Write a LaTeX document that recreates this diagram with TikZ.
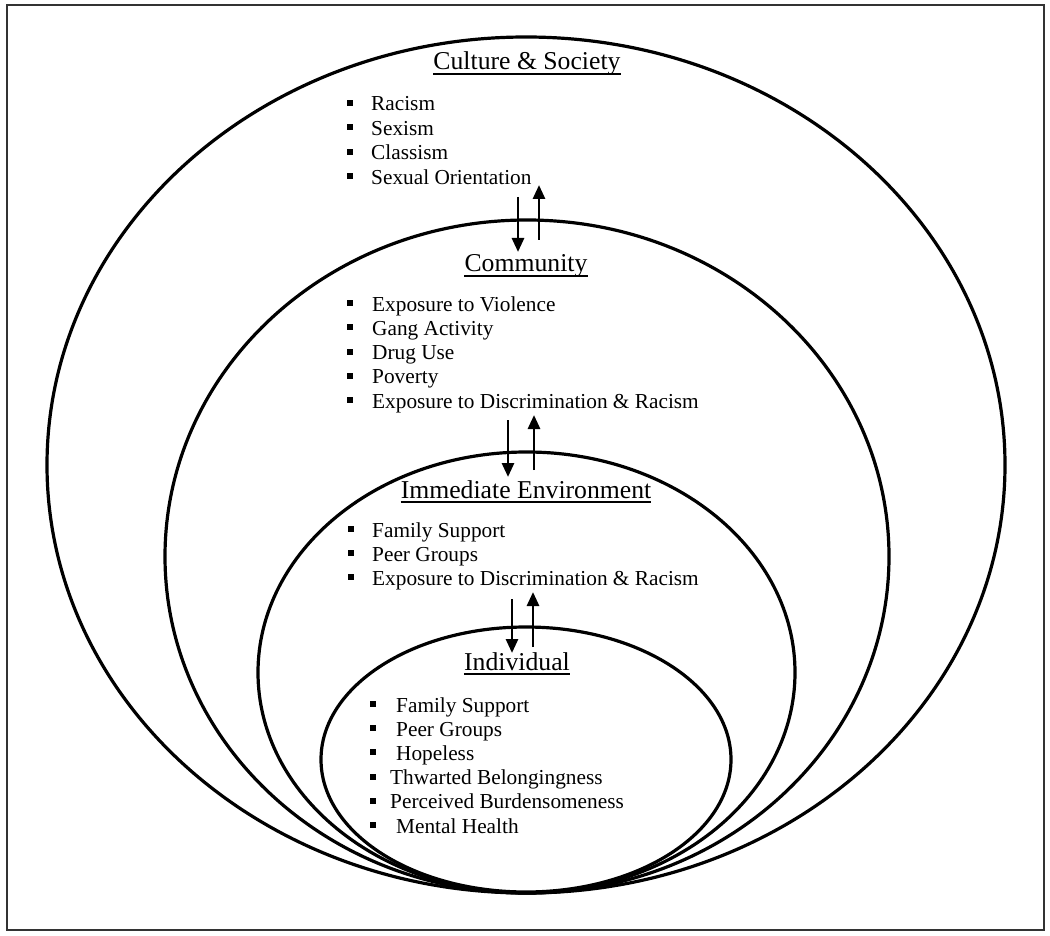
\documentclass[tikz,border=0pt]{standalone}
\usepackage{fontspec}
\setmainfont{Liberation Serif}
\usetikzlibrary{arrows.meta}
\definecolor{framegray}{HTML}{333333}
\begin{document}
\begin{tikzpicture}[x=1pt,y=-1pt,
  ring/.style={line width=3.2pt},
  ttl/.style={font=\fontsize{25.7}{28}\selectfont, inner sep=0pt, anchor=base},
  itm/.style={font=\fontsize{21.3}{24}\selectfont, inner sep=0pt, anchor=base west},
  bul/.style={fill=black, inner sep=0pt, minimum size=6pt},
  ul/.style={line width=1.6pt},
  flow/.style={line width=2.8pt, -{Triangle[length=14pt,width=12pt]}}]
\useasboundingbox (0,0) rectangle (1050,936);
\draw[line width=2.2pt, framegray] (7,5) rectangle (1044,930);

% rings
\draw[ring] (526,465) ellipse [x radius=479pt, y radius=428pt];
\draw[ring] (527,556.5) ellipse [x radius=362pt, y radius=336.5pt];
\draw[ring] (526.5,672.5) ellipse [x radius=268.5pt, y radius=220.5pt];
\draw[ring] (526,759.5) ellipse [x radius=205pt, y radius=132.5pt];

% titles
\node[ttl] (tc) at (527,70) {Culture \& Society};
\draw[ul] ([yshift=-4pt]tc.base west) -- ([yshift=-4pt]tc.base east);
\node[ttl] (tm) at (526,272) {Community};
\draw[ul] ([yshift=-4pt]tm.base west) -- ([yshift=-4pt]tm.base east);
\node[ttl] (te) at (526,498) {Immediate Environment};
\draw[ul] ([yshift=-4pt]te.base west) -- ([yshift=-4pt]te.base east);
\node[ttl] (ti) at (517,670) {Individual};
\draw[ul] ([yshift=-4pt]ti.base west) -- ([yshift=-4pt]ti.base east);

% culture items
\foreach \t [count=\i, evaluate=\i as \yb using 111+24.4*(\i-1)] in
  {Racism, Sexism, Classism, Sexual Orientation} {
  \node[bul] (cb\i) at (350,\yb-8) {};
  \node[itm] (c\i) at (371,\yb) {\t};
}
% community items
\foreach \t [count=\i, evaluate=\i as \yb using 311+24.3*(\i-1)] in
  {Exposure to Violence, Gang Activity, Drug Use, Poverty, Exposure to Discrimination \& Racism} {
  \node[bul] (mb\i) at (350,\yb-8) {};
  \node[itm] (m\i) at (372,\yb) {\t};
}
% immediate environment items
\foreach \t [count=\i, evaluate=\i as \yb using 537+24*(\i-1)] in
  {Family Support, Peer Groups, Exposure to Discrimination \& Racism} {
  \node[bul] (eb\i) at (351,\yb-8) {};
  \node[itm] (e\i) at (372,\yb) {\t};
}
% individual items
\foreach \xx/\t [count=\i, evaluate=\i as \yb using 712+24.2*(\i-1)] in
  {396/Family Support, 396/Peer Groups, 396/Hopeless, 390/Thwarted Belongingness,
   390/Perceived Burdensomeness, 396/Mental Health} {
  \node[bul] (ib\i) at (373,\yb-8) {};
  \node[itm] (i\i) at (\xx,\yb) {\t};
}

% arrows
\coordinate (a1s) at (518,197); \coordinate (a1e) at (518,252);
\coordinate (b1s) at (539,240); \coordinate (b1e) at (539,185);
\coordinate (a2s) at (508,420); \coordinate (a2e) at (508,477);
\coordinate (b2s) at (534,470); \coordinate (b2e) at (534,415);
\coordinate (a3s) at (512,599); \coordinate (a3e) at (512,653);
\coordinate (b3s) at (533,647); \coordinate (b3e) at (533,592);
\draw[flow] (a1s) -- (a1e);
\draw[flow] (b1s) -- (b1e);
\draw[flow] (a2s) -- (a2e);
\draw[flow] (b2s) -- (b2e);
\draw[flow] (a3s) -- (a3e);
\draw[flow] (b3s) -- (b3e);
\end{tikzpicture}
\end{document}
